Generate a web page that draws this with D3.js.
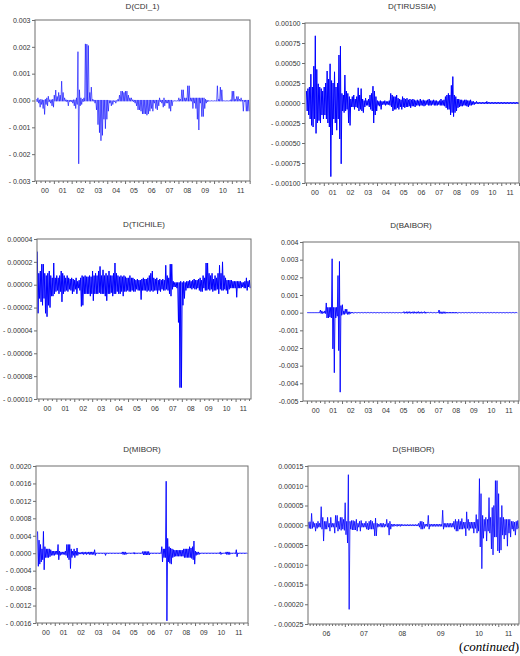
<!DOCTYPE html>
<html>
<head>
<meta charset="utf-8">
<script src="https://cdn.jsdelivr.net/npm/d3@7"></script>
<style>
  body { margin: 0; background: #fff; }
  svg { display: block; }
  text { font-family: "Liberation Sans", Arial, sans-serif; }
</style>
</head>
<body>
<svg id="chart" width="520" height="656"></svg>
<script>
"use strict";

// high / low of each differenced series per period
// (one pair per month, half-month for SHIBOR, in the unit given by the panel)

// D(CDI_1), Jan 2000 - Dec 2011, unit 1e-4
var cdiHi = [
	0.5, 1, 0.3, 0.5, 0.3, 0.2, 0.5, 1, 1.6, 0.3, 0.3, 0.5,
	2, 3.9, 1.5, 3, 2, 7.2, 3, 1, 0.3, 0.2, 0.2, 0.2,
	0.2, 0.3, 0.3, 1, 18.2, 4, 1, 0.5, 1, 21.1, 21, 20.5,
	3, 5, 0.5, 0.2, 0.2, 0.2, 0.2, 0.2, 0.2, 0.2, 0.2, 0.2,
	0.2, 0.1, 0, 0, 0, 0, 0, 0.5, 2, 3.5, 3.5, 3,
	3.5, 3.5, 2, 1, 1, 0.3, 0.2, 0.2, 0.2, 0.2, 0.2, 0.2,
	0.2, 0.2, 0.2, 0.2, 0.2, 0.2, 0.2, 0.2, 0.2, 0.2, 0.2, 1,
	0.2, 0.2, 1, 0.2, 0.2, 0.2, 0.2, 0.2, 0, 0, 0, 0,
	1, 0.5, 4, 4, 1, 1, 5.5, 5.5, 1, 1, 1, 1,
	1, 1, 1, 1, 1, 1, 0.5, 0.2, 0, 0, 0, 0,
	0, 0, 5.5, 0.5, 5, 4, 0, 0, 0, 0, 0, 0.3,
	3.5, 3.5, 0.5, 1.5, 1.5, 0.5, 1, 0.2, 0.2, 0.2, 0.2, 0.2
];
var cdiLo = [
	-0.5, -1, -2.5, -1.5, -3, -5.2, -1.5, -2, -0.5, -1, -2, -2.5,
	-0.3, -0.3, -0.3, -0.3, -0.3, -0.3, -0.3, -0.3, -0.5, -2, -0.5, -0.5,
	-1, -2, -3, -1.5, -23.6, -2, -1.5, -0.5, -0.3, -0.3, -0.3, -0.3,
	-0.3, -0.3, -0.3, -1, -3.5, -9, -12, -15, -13, -7, -10.5, -7,
	-4, -1, -2, -1.5, -0.5, -1, -0.3, -0.3, -0.3, -0.3, -0.3, -0.3,
	-0.3, -0.3, -0.3, -0.3, -0.3, -0.5, -1, -2, -3.5, -3.5, -4, -5,
	-5, -5, -5.5, -5, -4, -3, -4, -1, -3, -3.5, -2, -0.5,
	-1, -2.5, -2, -1, -1, -3, -4, -2, -0.3, -0.3, -0.3, -0.3,
	-0.3, -0.3, -0.3, -0.3, -0.3, -0.3, -0.3, -0.3, -0.3, -3, -1, -3,
	-7, -11, -1, -6, -6, -3, -1, -0.5, -0.3, -0.3, -0.3, -0.3,
	-0.3, -0.3, -0.3, -0.3, -0.3, -0.3, -0.3, -0.3, -0.3, -0.3, -0.3, -0.3,
	-0.3, -0.3, -0.3, -0.3, -0.3, -0.3, -0.3, -4, -0.5, -4, -4, -4
];

// D(TIRUSSIA), Jan 2000 - Dec 2011, unit 1e-5
var tirHi = [
	15, 18, 20, 36, 20, 46, 84, 42, 24, 20, 18, 15,
	20, 25, 40, 30, 49, 28, 25, 39, 20, 25, 60, 71,
	12, 10, 35, 15, 12, 8, 5, 8, 10, 5, 8, 19,
	10, 18, 5, 3, 6, 3, 5, 10, 12, 21, 15, 8,
	3, 2, 3, 2, 2, 3, 2, 2, 3, 12, 10, 8,
	8, 10, 6, 5, 4, 8, 6, 5, 6, 4, 5, 4,
	5, 4, 3, 4, 3, 5, 3, 4, 3, 3, 4, 5,
	3, 3, 4, 3, 3, 2, 3, 5, 3, 4, 8, 10,
	12, 10, 22, 33, 10, 8, 5, 5, 4, 4, 3, 4,
	4, 3, 3, 4, 2, 2, 1, 2, 1, 1, 1, 1,
	1, 1, 2, 1, 1, 1, 1, 1, 1, 1, 1, 1,
	1, 1, 1, 1, 1, 1, 1, 1, 1, 1, 1, 1
];
var tirLo = [
	-10, -15, -20, -28, -30, -20, -38, -25, -22, -25, -15, -20,
	-15, -20, -25, -30, -92, -40, -20, -25, -34, -20, -45, -76,
	-10, -12, -10, -8, -25, -28, -5, -5, -8, -5, -6, -10,
	-8, -10, -12, -5, -3, -3, -5, -8, -10, -25, -15, -10,
	-3, -4, -8, -2, -2, -3, -2, -2, -3, -5, -10, -8,
	-8, -6, -8, -5, -8, -5, -6, -5, -5, -4, -6, -4,
	-4, -5, -3, -3, -4, -3, -3, -4, -3, -2, -3, -3,
	-3, -2, -3, -3, -3, -2, -3, -3, -3, -4, -6, -8,
	-8, -15, -12, -17, -12, -10, -6, -5, -4, -4, -3, -3,
	-4, -5, -3, -3, -2, -2, -1, -1, -1, -1, -1, -1,
	-1, -1, -1, -1, -1, -1, -1, -1, -1, -1, -1, -1,
	-1, -1, -1, -1, -1, -1, -1, -1, -1, -1, -1, -1
];

// D(TICHILE), Dec 1999 - Oct 2011, unit 1e-6
var chiHi = [
	29,
	10, 12, 18, 18, 10, 8, 10, 12, 8, 6, 19, 6,
	8, 6, 8, 12, 10, 8, 6, 8, 6, 5, 6, 5,
	4, 6, 3, 4, 6, 8, 7, 8, 7, 7, 8, 7,
	12, 8, 10, 8, 12, 16, 8, 13, 8, 10, 8, 12,
	8, 8, 10, 19, 10, 8, 7, 8, 7, 8, 7, 6,
	6, 8, 6, 6, 5, 4, 5, 4, 4, 5, 6, 5,
	5, 6, 8, 10, 12, 6, 5, 6, 4, 5, 4, 5,
	4, 17, 8, 6, 18, 18, 3, 2, 2, 2, 2, 3,
	2, 3, 2, 3, 3, 4, 3, 4, 5, 4, 4, 5,
	6, 4, 8, 6, 19, 19, 10, 8, 10, 5, 8, 6,
	10, 17, 10, 20, 8, 6, 4, 4, 4, 4, 3, 3,
	3, 3, 3, 3, 2, 2, 3, 6, 3, 4
];
var chiLo = [
	-25,
	-12, -15, -18, -12, -25, -28, -18, -20, -10, -10, -8, -6,
	-5, -8, -6, -15, -8, -6, -5, -6, -4, -5, -8, -6,
	-4, -8, -3, -5, -19, -18, -8, -8, -8, -8, -10, -8,
	-14, -8, -8, -8, -7, -8, -8, -8, -10, -14, -8, -8,
	-7, -10, -8, -8, -6, -8, -8, -6, -10, -6, -6, -5,
	-6, -6, -5, -6, -6, -4, -5, -5, -13, -5, -5, -5,
	-6, -5, -6, -5, -6, -5, -5, -8, -5, -6, -4, -5,
	-5, -4, -5, -8, -10, -4, -2, -2, -3, -33, -90, -90,
	-18, -12, -5, -3, -3, -3, -4, -3, -4, -4, -3, -5,
	-6, -6, -3, -5, -5, -4, -5, -4, -6, -5, -5, -4,
	-8, -4, -5, -5, -4, -5, -8, -4, -3, -3, -3, -3,
	-11, -3, -3, -3, -2, -3, -3, -5, -2, -3
];

// D(BAIBOR), Jan 2000 - Dec 2011, unit 1e-4
var baiHi = [
	0, 0, 0, 0, 0, 0, 0, 0, 0, 1.5, 1, 0.5,
	1, 5.5, 3, 3, 3, 30.5, 3, 3, 3, 21, 29, 4,
	4.5, 1, 2, 2, 0.5, 0.5, 0.3, 0.3, 0.1, 0.1, 0.1, 0.1,
	0.1, 0.1, 0.1, 0.1, 0.1, 0.1, 0.1, 0.1, 0.1, 0.1, 0.1, 0.1,
	0.1, 0.1, 0.1, 0.1, 0.1, 0.1, 0.1, 0.1, 0.1, 0.1, 0.1, 0.1,
	0.1, 0.1, 0.1, 0.1, 0.1, 0.1, 0.6, 0.4, 0.6, 0.5, 0.6, 0.4,
	0.5, 0.6, 0.4, 0.5, 0.6, 0.4, 0.5, 0.3, 0.6, 0.4, 0.2, 0.2,
	0.2, 0.1, 0.1, 0.1, 0.1, 0.1, 1.5, 0.5, 0.5, 0.5, 0.5, 0.3,
	0.3, 0.3, 0.3, 0.3, 0.3, 0.3, 0.3, 0.1, 0.1, 0.1, 0.1, 0.1,
	0.1, 0.1, 0.1, 0.1, 0.1, 0.1, 0.1, 0.1, 0.1, 0.1, 0.1, 0.1,
	0.1, 0.1, 0.1, 0.1, 0.1, 0.1, 0.1, 0.1, 0.1, 0.1, 0.1, 0.1,
	0.1, 0.1, 0.1, 0.1, 0.1, 0.1, 0.1, 0.1, 0.1, 0.1, 0.1, 0.1
];
var baiLo = [
	0, 0, 0, 0, 0, 0, 0, 0, 0, -0.5, -0.5, -0.3,
	-0.5, -3, -3, -2.5, -3, -20.5, -34, -3, -2, -21.5, -45, -1.5,
	-1, -1, -0.5, -1, -1, -0.5, -0.3, -0.3, -0.1, -0.1, -0.1, -0.1,
	-0.1, -0.1, -0.1, -0.1, -0.1, -0.1, -0.1, -0.1, -0.1, -0.1, -0.1, -0.1,
	-0.1, -0.1, -0.1, -0.1, -0.1, -0.1, -0.1, -0.1, -0.1, -0.1, -0.1, -0.1,
	-0.1, -0.1, -0.1, -0.1, -0.1, -0.1, -0.4, -0.3, -0.4, -0.3, -0.4, -0.3,
	-0.4, -0.3, -0.4, -0.3, -0.4, -0.3, -0.4, -0.2, -0.4, -0.3, -0.1, -0.1,
	-0.1, -0.1, -0.1, -0.1, -0.1, -0.1, -0.5, -0.5, -0.5, -0.4, -0.4, -0.3,
	-0.3, -0.3, -0.3, -0.3, -0.3, -0.3, -0.3, -0.1, -0.1, -0.1, -0.1, -0.1,
	-0.1, -0.1, -0.1, -0.1, -0.1, -0.1, -0.1, -0.1, -0.1, -0.1, -0.1, -0.1,
	-0.1, -0.1, -0.1, -0.1, -0.1, -0.1, -0.1, -0.1, -0.1, -0.1, -0.1, -0.1,
	-0.1, -0.1, -0.1, -0.1, -0.1, -0.1, -0.1, -0.1, -0.1, -0.1, -0.1, -0.1
];

// D(MIBOR), Jan 2000 - Dec 2011, unit 1e-4
var mibHi = [
	5, 3, 2, 1, 5, 1.5, 1, 1, 1, 0.8, 0.5, 0.5,
	0.5, 0.5, 2, 0.5, 0.3, 0.3, 0.3, 0.5, 2, 2, 2, 1,
	0.5, 1, 0.5, 1.2, 0.2, 0.2, 0.2, 0.3, 0.2, 0.3, 0.2, 0.3,
	0.3, 0.3, 0.3, 0.8, 0.1, 0.1, 0.1, 0.1, 0.1, 0.1, 0.1, 0.1,
	0.1, 0.1, 0.1, 0.1, 0.1, 0.1, 0.1, 0.1, 0.1, 0.1, 0.3, 0.3,
	0.3, 0.1, 0.1, 0.1, 0.1, 0.1, 0.2, 0.1, 0.1, 0.1, 0.1, 0.1,
	0.4, 0.4, 0.4, 0.4, 0.4, 0.1, 0.1, 0.1, 0.1, 0.1, 0.1, 0.1,
	0.1, 1.5, 1, 1, 16.5, 3.4, 1.5, 1.2, 1, 0.8, 0.7, 0.7,
	0.7, 0.7, 0.7, 0.7, 1, 1, 1, 1, 1.5, 1.2, 1.5, 2.8,
	0.5, 0.3, 0.3, 0.1, 0.1, 0.1, 0.1, 0.1, 0.1, 0.1, 0.1, 0.1,
	0.1, 0.1, 0.1, 0.1, 0.1, 0.3, 0.1, 0.1, 0.1, 0.3, 0.3, 0.3,
	0.1, 0.1, 0.1, 0.1, 0.8, 0.1, 0.1, 0.1, 0.1, 0.1, 0.1, 0.1
];
var mibLo = [
	-3, -2.5, -2, -1.5, -3.8, -1, -1, -1, -0.8, -0.5, -0.5, -0.5,
	-0.3, -0.3, -1.5, -0.5, -0.3, -0.3, -0.3, -0.5, -1, -1.5, -3.5, -1,
	-0.5, -1, -0.5, -0.5, -0.2, -0.2, -0.2, -0.3, -0.2, -0.3, -0.2, -0.3,
	-0.3, -0.3, -0.3, -0.5, -0.1, -0.1, -0.1, -0.1, -0.1, -0.1, -0.5, -0.1,
	-0.1, -0.1, -0.1, -0.1, -0.1, -0.1, -0.1, -0.1, -0.1, -0.1, -0.3, -0.3,
	-0.3, -0.1, -0.1, -0.1, -0.1, -0.1, -0.2, -0.1, -0.1, -0.1, -0.1, -0.1,
	-0.4, -0.4, -0.4, -0.4, -0.4, -0.1, -0.1, -0.1, -0.1, -0.1, -0.1, -0.1,
	-0.1, -2, -1, -1, -15.5, -2, -2.3, -2.5, -1, -0.8, -0.7, -0.7,
	-0.7, -0.7, -0.7, -0.7, -1, -1, -1, -1, -1, -1.2, -1.5, -2.5,
	-0.5, -0.3, -0.3, -0.1, -0.1, -0.1, -0.1, -0.1, -0.1, -0.1, -0.1, -0.1,
	-0.1, -0.1, -0.1, -0.1, -0.1, -0.3, -0.1, -0.1, -0.1, -0.3, -0.3, -0.3,
	-0.1, -0.1, -0.1, -0.1, -0.8, -0.1, -0.1, -0.1, -0.1, -0.1, -0.1, -0.1
];

// D(SHIBOR), half-months from early 2006, unit 1e-5
var shiHi = [
	0.8, 0.9, 3, 0.9, 0.5, 0.5, 1, 0.5, 4.7, 2, 1, 1,
	2, 0.5, 2, 0.5, 0.5, 2.5, 2.5, 1, 2, 2, 1.5, 5.7,
	1, 12.8, 1, 1.2, 1.2, 1, 1.5, 0.5, 1, 1.2, 0.5, 0.5,
	1, 0.5, 1, 1.3, 1, 0.5, 1.8, 0.5, 0.3, 0.5, 0.5, 0.5,
	0.3, 1.5, 0.5, 1, 0.3, 0.3, 0.3, 0.2, 0.3, 0.2, 0.3, 0.2,
	0.2, 0.2, 0.2, 0.2, 0.2, 0.2, 0.2, 0.2, 0.2, 0.5, 1, 1,
	0.8, 0.3, 0.3, 2.5, 0.3, 0.3, 0.3, 0.3, 0.3, 0.3, 0.3, 0.3,
	3.8, 0.5, 0.5, 0.5, 0.5, 0.5, 0.5, 1, 1.5, 1, 1.5, 1,
	1.7, 0.8, 0.8, 3.4, 1.5, 0.8, 0.8, 0.8, 0.8, 2.7, 1.5, 11.8,
	8, 2.5, 1.5, 2, 1.5, 7, 2, 4.5, 5, 11.3, 11.3, 8,
	2, 5, 2, 1.5, 1.5, 1.5, 1.5, 1, 1, 0.8, 1, 1.2
];
var shiLo = [
	-0.8, -0.9, -0.8, -0.5, -1.5, -0.8, -0.5, -0.5, -1, -4, -1, -1,
	-0.5, -1.5, -0.5, -0.5, -2, -0.5, -1.5, -1, -1.3, -1, -1.3, -2.4,
	-4.5, -21.3, -1, -1.2, -1.2, -1.2, -1.5, -0.5, -1.5, -0.5, -0.5, -0.5,
	-1, -1.2, -1, -1, -1, -2.7, -2.7, -0.5, -0.3, -0.5, -0.5, -0.5,
	-0.3, -0.5, -2.5, -1, -0.3, -0.3, -0.2, -0.3, -0.2, -0.3, -0.2, -0.2,
	-0.2, -0.2, -0.2, -0.2, -0.2, -0.2, -0.2, -0.2, -0.2, -0.5, -1, -1,
	-0.8, -0.3, -0.3, -1, -0.3, -0.3, -0.3, -0.3, -0.3, -0.3, -0.3, -0.3,
	-1, -0.5, -0.5, -0.5, -0.5, -0.5, -0.5, -1, -1.5, -1.5, -1, -1,
	-1, -0.8, -2.7, -0.8, -1.3, -0.8, -0.8, -2, -0.8, -2, -1.5, -5.5,
	-11, -3.3, -1.5, -4, -1.5, -2, -6, -7.5, -3, -3, -6.5, -7,
	-6.3, -2.5, -3.5, -2.5, -5.3, -2, -3, -1, -1.5, -2.5, -1, -0.8
];

// value axis ticks
var cdiTicks = [-0.003, -0.002, -0.001, 0, 0.001, 0.002, 0.003];
var tirTicks = [-0.001, -0.00075, -0.0005, -0.00025, 0, 0.00025, 0.0005, 0.00075, 0.001];
var chiTicks = [-0.0001, -0.00008, -0.00006, -0.00004, -0.00002, 0, 0.00002, 0.00004];
var baiTicks = [-0.005, -0.004, -0.003, -0.002, -0.001, 0, 0.001, 0.002, 0.003, 0.004];
var mibTicks = [-0.0016, -0.0012, -0.0008, -0.0004, 0, 0.0004, 0.0008, 0.0012, 0.0016, 0.002];
var shiTicks = [-0.00025, -0.0002, -0.00015, -0.0001, -0.00005, 0, 0.00005, 0.0001, 0.00015];

var panels = [
	{ title: "D(CDI_1)", hi: cdiHi, lo: cdiLo, unit: 1e-4, start: 2000, per: 12, xDomain: [1999.94, 2012.02], yTicks: cdiTicks, dec: 3, sep: " " },
	{ title: "D(TIRUSSIA)", hi: tirHi, lo: tirLo, unit: 1e-5, start: 2000, per: 12, xDomain: [1999.94, 2012.0], yTicks: tirTicks, dec: 5, sep: " " },
	{ title: "D(TICHILE)", hi: chiHi, lo: chiLo, unit: 1e-6, start: 1999 + 11 / 12, per: 12, xDomain: [1999.92, 2011.86], yTicks: chiTicks, dec: 5, sep: " " },
	{ title: "D(BAIBOR)", hi: baiHi, lo: baiLo, unit: 1e-4, start: 2000, per: 12, xDomain: [1999.78, 2012.07], yTicks: baiTicks, dec: 3, sep: "" },
	{ title: "D(MIBOR)", hi: mibHi, lo: mibLo, unit: 1e-4, start: 2000, per: 12, xDomain: [1999.93, 2012.02], yTicks: mibTicks, dec: 4, sep: " " },
	{ title: "D(SHIBOR)", hi: shiHi, lo: shiLo, unit: 1e-5, start: 2006.04, per: 24, xDomain: [2006.04, 2011.54], yTicks: shiTicks, dec: 5, sep: " ", monthly: true }
];

// plot frames on the page
var layout = [
	{ x0: 35, x1: 250, y0: 20, y1: 181, titleY: 9, lw: 0.6 },
	{ x0: 305, x1: 519, y0: 23, y1: 183, titleY: 9, lw: 1 },
	{ x0: 37, x1: 251, y0: 239, y1: 399, titleY: 227, lw: 1 },
	{ x0: 303, x1: 519, y0: 242, y1: 401, titleY: 228, lw: 0.9 },
	{ x0: 36, x1: 248, y0: 466, y1: 623, titleY: 452, lw: 0.9 },
	{ x0: 308, x1: 519, y0: 466, y1: 624, titleY: 452, lw: 0.8 }
];

var svg = d3.select("#chart");
var axisColor = "#6e6e6e", textColor = "#333";

panels.forEach(function (p, k) {
	var L = layout[k];
	var x = d3.scaleLinear().domain(p.xDomain).range([L.x0, L.x1]);
	var y = d3.scaleLinear().domain(d3.extent(p.yTicks)).range([L.y1, L.y0]);
	var g = svg.append("g");

	g.append("clipPath").attr("id", "clip" + k)
		.append("rect")
		.attr("x", L.x0).attr("y", L.y0)
		.attr("width", L.x1 - L.x0).attr("height", L.y1 - L.y0);

	// zigzag high -> low within each period, like the dense daily line
	var pts = [];
	p.hi.forEach(function (h, i) {
		var t = p.start + i / p.per;
		pts.push([t + 0.25 / p.per, h * p.unit]);
		pts.push([t + 0.75 / p.per, p.lo[i] * p.unit]);
	});
	var line = d3.line()
		.x(function (d) { return x(d[0]); })
		.y(function (d) { return y(d[1]); });

	g.append("path")
		.attr("d", line(pts))
		.attr("clip-path", "url(#clip" + k + ")")
		.attr("fill", "none")
		.attr("stroke", "#0000ff")
		.attr("stroke-width", L.lw)
		.attr("stroke-linejoin", "round");

	// y axis
	var fmt = function (v) {
		return (v < 0 ? "-" + p.sep : "") + Math.abs(v).toFixed(p.dec);
	};
	var yAxis = g.append("g")
		.attr("transform", "translate(" + L.x0 + ",0)")
		.call(d3.axisLeft(y).tickValues(p.yTicks).tickSize(3).tickPadding(1.5).tickFormat(fmt));
	yAxis.select(".domain").remove();
	yAxis.selectAll("line").attr("stroke", axisColor);
	yAxis.selectAll("text").attr("fill", textColor).style("font-size", "7px")
		.style("font-family", "'Liberation Sans', Arial, sans-serif");

	// x ticks: quarters (months for the short panel), years a bit longer
	var d0 = p.xDomain[0], d1 = p.xDomain[1];
	var tper = p.monthly ? 12 : 4;
	var ticks = d3.range(Math.ceil(d0 * tper), Math.floor(d1 * tper) + 1).map(function (q) { return q / tper; });
	var xAxis = g.append("g")
		.attr("transform", "translate(0," + L.y1 + ")")
		.call(d3.axisBottom(x).tickValues(ticks).tickSize(2).tickFormat(""));
	xAxis.select(".domain").remove();
	xAxis.selectAll("line").attr("stroke", axisColor)
		.attr("y2", function (d) { return Math.abs(d - Math.round(d)) < 1e-6 ? 3 : 2; });

	// year labels, centred on the visible part of each year
	var years = d3.range(Math.floor(d0), Math.floor(d1) + 1).filter(function (yr) {
		return Math.min(yr + 1, d1) - Math.max(yr, d0) > 0.3;
	});
	g.selectAll(".yr").data(years).enter().append("text")
		.attr("x", function (yr) { return x((Math.max(yr, d0) + Math.min(yr + 1, d1)) / 2); })
		.attr("y", L.y1 + 12)
		.attr("text-anchor", "middle")
		.attr("fill", textColor)
		.style("font-size", "7px")
		.text(function (yr) { return String(yr % 100).padStart(2, "0"); });

	// frame
	g.append("rect")
		.attr("x", L.x0).attr("y", L.y0)
		.attr("width", L.x1 - L.x0).attr("height", L.y1 - L.y0)
		.attr("fill", "none")
		.attr("stroke", axisColor)
		.attr("stroke-width", 1);

	g.append("text")
		.attr("x", (L.x0 + L.x1) / 2)
		.attr("y", L.titleY)
		.attr("text-anchor", "middle")
		.attr("fill", "#333")
		.style("font-size", "8px")
		.text(p.title);
});

var cont = svg.append("text")
	.attr("x", 519).attr("y", 651)
	.attr("text-anchor", "end")
	.attr("fill", "#000")
	.style("font-family", "'Liberation Serif', 'Times New Roman', serif")
	.style("font-size", "13px");
cont.append("tspan").text("(");
cont.append("tspan").style("font-style", "italic").text("continued");
cont.append("tspan").text(")");
</script>
</body>
</html>
